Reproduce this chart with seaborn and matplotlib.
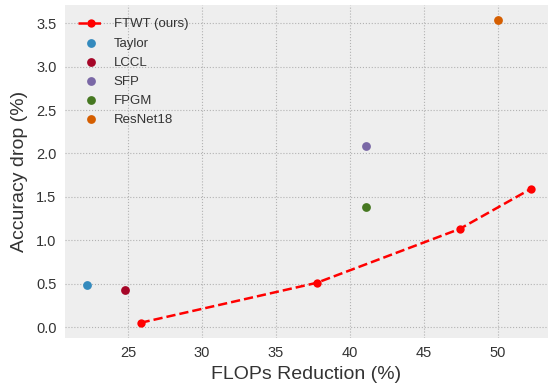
import pandas as pd
import matplotlib
matplotlib.use("Agg")
import matplotlib.pyplot as plt
import seaborn as sns

# ============================
# DATA
# ============================
ftwt_flops = [25.86, 37.77, 47.43, 52.23]
ftwt_drop = [0.05, 0.51, 1.13, 1.59]

methods = ["Taylor", "LCCL", "SFP", "FPGM", "ResNet18"]
method_flops = [22.25, 24.8, 41.1, 41.1, 50.05]
method_drop = [0.48, 0.43, 2.09, 1.38, 3.54]
method_colors = ["#348ABD", "#A60628", "#7A68A6", "#467821", "#D55E00"]

x_ticks = [25, 30, 35, 40, 45, 50]
y_ticks = [0.0, 0.5, 1.0, 1.5, 2.0, 2.5, 3.0, 3.5]

# ============================
# STYLE
# ============================
sns.set_style("darkgrid", {
    "axes.facecolor": "#eeeeee",
    "grid.color": "#b2b2b2",
    "grid.linestyle": ":",
    "axes.edgecolor": "#eeeeee",
})
plt.rcParams["font.family"] = ["Liberation Sans", "DejaVu Sans"]
plt.rcParams["text.color"] = "#333333"
plt.rcParams["xtick.color"] = "#333333"
plt.rcParams["ytick.color"] = "#333333"
plt.rcParams["axes.labelcolor"] = "#333333"

fig, ax = plt.subplots(figsize=(5.5, 3.86), dpi=100)
fig.subplots_adjust(left=0.118, right=0.996, top=0.987, bottom=0.124)

# FTWT curve
ftwt = pd.DataFrame({"flops": ftwt_flops, "drop": ftwt_drop})
sns.lineplot(data=ftwt, x="flops", y="drop", ax=ax, color="red",
             linestyle="--", linewidth=1.8, marker="o", markersize=6,
             markeredgewidth=0, label="FTWT (ours)")

# other methods
for name, fx, dy, c in zip(methods, method_flops, method_drop, method_colors):
    sns.scatterplot(x=[fx], y=[dy], ax=ax, color=c, s=40, linewidth=0,
                    label=name)

ax.set_xlim(20.74, 53.4)
ax.set_ylim(-0.127, 3.71)
ax.set_xticks(x_ticks)
ax.set_yticks(y_ticks)
ax.tick_params(labelsize=10.5, length=0, pad=6)
ax.set_xlabel("FLOPs Reduction (%)", fontsize=14, labelpad=4)
ax.set_ylabel("Accuracy drop (%)", fontsize=14, labelpad=6)
for s in ax.spines.values():
    s.set_visible(False)

ax.legend(loc="upper left", frameon=False, fontsize=9.5, handlelength=2.0,
          handletextpad=0.7, borderaxespad=0.6, labelspacing=0.52)

fig.savefig("out.png", dpi=100)
